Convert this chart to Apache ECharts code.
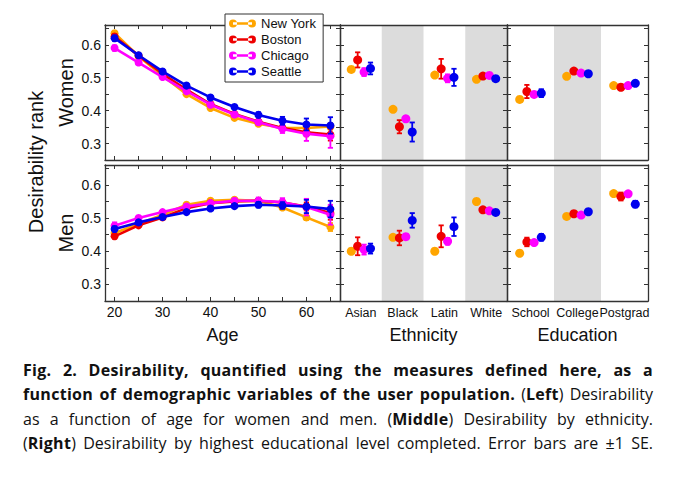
<!DOCTYPE html>
<html>
<head>
<meta charset="utf-8">
<script src="https://cdn.jsdelivr.net/npm/echarts@6/dist/echarts.min.js"></script>
<style>
html,body{margin:0;padding:0;background:#fff;}
#chart{position:absolute;left:0;top:0;width:680px;height:479px;}
#cap{position:absolute;left:23px;top:358px;width:630px;font-family:'Open Sans',sans-serif;font-size:16px;color:#111;}
#cap .l{text-align:justify;text-align-last:justify;height:24.3px;line-height:24.3px;}
#cap b{font-weight:700;letter-spacing:0.3px;}
</style>
</head>
<body>
<div id="chart"></div>
<div id="cap">
<div class="l"><b>Fig. 2. Desirability, quantified using the measures defined here, as a</b></div>
<div class="l"><b>function of demographic variables of the user population.</b> (<b>Left</b>) Desirability</div>
<div class="l">as a function of age for women and men. (<b>Middle</b>) Desirability by ethnicity.</div>
<div class="l">(<b>Right</b>) Desirability by highest educational level completed. Error bars are ±1 SE.</div>
</div>
<script>
// ---------- data ----------
const cities = ['New York', 'Boston', 'Chicago', 'Seattle'];
const ages = [20, 25, 30, 35, 40, 45, 50, 55, 60, 65];
const ethnicities = ['Asian', 'Black', 'Latin', 'White'];
const educations = ['School', 'College', 'Postgrad'];
const ageTicks = [20, 25, 30, 35, 40, 45, 50, 55, 60, 65];
const ageLabels = [20, 30, 40, 50, 60];
const yTicks = [0.25, 0.3, 0.35, 0.4, 0.45, 0.5, 0.55, 0.6, 0.65];
const yLabels = [0.3, 0.4, 0.5, 0.6];

// Women, by age
const womenAgeNewYork = [0.635, 0.565, 0.506, 0.450, 0.408, 0.378, 0.360, 0.347, 0.347, 0.352];
const womenAgeBoston  = [0.625, 0.567, 0.512, 0.464, 0.420, 0.390, 0.366, 0.347, 0.334, 0.327];
const womenAgeChicago = [0.590, 0.546, 0.502, 0.459, 0.418, 0.388, 0.365, 0.344, 0.330, 0.322];
const womenAgeSeattle = [0.620, 0.568, 0.519, 0.476, 0.440, 0.411, 0.387, 0.369, 0.358, 0.355];
const womenAgeErrNewYork = [0.006, 0.004, 0.004, 0.004, 0.004, 0.004, 0.005, 0.006, 0.008, 0.010];
const womenAgeErrBoston  = [0.007, 0.005, 0.004, 0.004, 0.004, 0.005, 0.006, 0.008, 0.012, 0.018];
const womenAgeErrChicago = [0.008, 0.006, 0.005, 0.005, 0.005, 0.006, 0.007, 0.012, 0.022, 0.035];
const womenAgeErrSeattle = [0.008, 0.006, 0.005, 0.005, 0.005, 0.006, 0.008, 0.012, 0.018, 0.025];

// Men, by age
const menAgeNewYork = [0.455, 0.482, 0.510, 0.540, 0.552, 0.555, 0.552, 0.532, 0.502, 0.473];
const menAgeBoston  = [0.445, 0.478, 0.502, 0.530, 0.545, 0.550, 0.552, 0.547, 0.535, 0.515];
const menAgeChicago = [0.477, 0.500, 0.518, 0.535, 0.545, 0.552, 0.552, 0.548, 0.533, 0.510];
const menAgeSeattle = [0.467, 0.487, 0.503, 0.518, 0.529, 0.536, 0.540, 0.538, 0.535, 0.527];
const menAgeErrNewYork = [0.006, 0.004, 0.004, 0.004, 0.004, 0.005, 0.005, 0.006, 0.008, 0.012];
const menAgeErrBoston  = [0.007, 0.005, 0.004, 0.004, 0.004, 0.005, 0.006, 0.008, 0.012, 0.020];
const menAgeErrChicago = [0.010, 0.006, 0.005, 0.005, 0.005, 0.006, 0.010, 0.012, 0.025, 0.030];
const menAgeErrSeattle = [0.008, 0.006, 0.005, 0.005, 0.005, 0.006, 0.008, 0.010, 0.020, 0.025];

// Women, by ethnicity (Asian, Black, Latin, White)
const womenEthNewYork = [0.525, 0.404, 0.508, 0.495];
const womenEthBoston  = [0.554, 0.351, 0.527, 0.505];
const womenEthChicago = [0.517, 0.375, 0.498, 0.507];
const womenEthSeattle = [0.528, 0.335, 0.501, 0.497];
const womenEthErrNewYork = [0.005, 0.005, 0.006, 0.002];
const womenEthErrBoston  = [0.023, 0.020, 0.030, 0.003];
const womenEthErrChicago = [0.012, 0.008, 0.012, 0.002];
const womenEthErrSeattle = [0.018, 0.029, 0.026, 0.003];

// Men, by ethnicity
const menEthNewYork = [0.400, 0.442, 0.400, 0.550];
const menEthBoston  = [0.415, 0.440, 0.445, 0.525];
const menEthChicago = [0.405, 0.444, 0.430, 0.522];
const menEthSeattle = [0.408, 0.493, 0.474, 0.517];
const menEthErrNewYork = [0.005, 0.005, 0.005, 0.002];
const menEthErrBoston  = [0.027, 0.022, 0.033, 0.003];
const menEthErrChicago = [0.015, 0.008, 0.010, 0.002];
const menEthErrSeattle = [0.015, 0.022, 0.028, 0.003];

// Women, by education (School, College, Postgrad)
const womenEduNewYork = [0.434, 0.504, 0.476];
const womenEduBoston  = [0.458, 0.520, 0.471];
const womenEduChicago = [0.449, 0.514, 0.476];
const womenEduSeattle = [0.453, 0.512, 0.483];
const womenEduErrNewYork = [0.008, 0.002, 0.002];
const womenEduErrBoston  = [0.020, 0.003, 0.007];
const womenEduErrChicago = [0.006, 0.002, 0.002];
const womenEduErrSeattle = [0.012, 0.003, 0.008];

// Men, by education
const menEduNewYork = [0.394, 0.505, 0.574];
const menEduBoston  = [0.428, 0.513, 0.565];
const menEduChicago = [0.426, 0.509, 0.573];
const menEduSeattle = [0.442, 0.519, 0.542];
const menEduErrNewYork = [0.005, 0.002, 0.002];
const menEduErrBoston  = [0.013, 0.003, 0.012];
const menEduErrChicago = [0.005, 0.002, 0.003];
const menEduErrSeattle = [0.010, 0.003, 0.010];

// ---------- styles / layout ----------
const colors = ['#FFA500', '#EE0000', '#FF00FF', '#0000EE'];
const FONT = "'Liberation Sans', Arial, Helvetica, sans-serif";
const AX = '#333';
const yMin = 0.25, yMax = 0.66;
const offsets = [-0.23, -0.077, 0.077, 0.23];
const grids = [
  {left: 105, top: 25, width: 235, height: 135},
  {left: 105, top: 165, width: 235, height: 136},
  {left: 340, top: 25, width: 167, height: 135},
  {left: 340, top: 165, width: 167, height: 136},
  {left: 507, top: 25, width: 141, height: 135},
  {left: 507, top: 165, width: 141, height: 136}
];

const panelData = [
  {vals: [womenAgeNewYork, womenAgeBoston, womenAgeChicago, womenAgeSeattle],
   errs: [womenAgeErrNewYork, womenAgeErrBoston, womenAgeErrChicago, womenAgeErrSeattle]},
  {vals: [menAgeNewYork, menAgeBoston, menAgeChicago, menAgeSeattle],
   errs: [menAgeErrNewYork, menAgeErrBoston, menAgeErrChicago, menAgeErrSeattle]},
  {vals: [womenEthNewYork, womenEthBoston, womenEthChicago, womenEthSeattle],
   errs: [womenEthErrNewYork, womenEthErrBoston, womenEthErrChicago, womenEthErrSeattle]},
  {vals: [menEthNewYork, menEthBoston, menEthChicago, menEthSeattle],
   errs: [menEthErrNewYork, menEthErrBoston, menEthErrChicago, menEthErrSeattle]},
  {vals: [womenEduNewYork, womenEduBoston, womenEduChicago, womenEduSeattle],
   errs: [womenEduErrNewYork, womenEduErrBoston, womenEduErrChicago, womenEduErrSeattle]},
  {vals: [menEduNewYork, menEduBoston, menEduChicago, menEduSeattle],
   errs: [menEduErrNewYork, menEduErrBoston, menEduErrChicago, menEduErrSeattle]}
];

const xAxes = [], yAxes = [], series = [];
const lineCommon = {show: true, onZero: false, lineStyle: {color: AX, width: 1.3}};

grids.forEach((g, gi) => {
  const isAge = gi < 2;
  const cats = gi < 4 ? ethnicities : educations;
  const isBottom = gi % 2 === 1;
  const xMin = isAge ? 18 : -0.5;
  const xMax = isAge ? 67 : cats.length - 0.5;
  const xName = isBottom ? (isAge ? 'Age' : (gi < 4 ? 'Ethnicity' : 'Education')) : '';
  // bottom x
  xAxes.push({
    gridIndex: gi, type: 'value', position: 'bottom', min: xMin, max: xMax, z: 10,
    axisLine: lineCommon,
    axisTick: isAge ? {show: true, inside: true, length: 4, customValues: ageTicks, lineStyle: {color: AX}} : {show: false},
    axisLabel: {
      show: isBottom, margin: isAge ? 4 : 5,
      customValues: isAge ? ageLabels : cats.map((c, i) => i),
      formatter: isAge ? (v => String(v)) : (v => cats[Math.round(v)]),
      fontSize: isAge ? 14 : 12.5, color: '#111', fontFamily: FONT
    },
    splitLine: {show: false},
    name: xName, nameLocation: 'middle', nameGap: 25,
    nameTextStyle: {fontSize: 18, color: '#111', fontFamily: FONT}
  });
  // top x
  xAxes.push({
    gridIndex: gi, type: 'value', position: 'top', min: xMin, max: xMax, z: 10,
    axisLine: lineCommon,
    axisTick: isAge ? {show: true, inside: true, length: 4, customValues: ageTicks, lineStyle: {color: AX}} : {show: false},
    axisLabel: {show: false}, splitLine: {show: false}
  });
  // left y
  yAxes.push({
    gridIndex: gi, type: 'value', position: 'left', min: yMin, max: yMax, z: 10,
    axisLine: lineCommon,
    axisTick: {show: true, inside: true, length: 4, customValues: yTicks, lineStyle: {color: AX}},
    axisLabel: {show: isAge, customValues: yLabels, formatter: v => v.toFixed(1), margin: 4,
      fontSize: 14, color: '#111', fontFamily: FONT},
    splitLine: {show: false},
    name: isAge ? (gi === 0 ? 'Women' : 'Men') : '', nameLocation: 'middle', nameGap: 29,
    nameTextStyle: {fontSize: 20, color: '#111', fontFamily: FONT}
  });
  // right y
  yAxes.push({
    gridIndex: gi, type: 'value', position: 'right', min: yMin, max: yMax, z: 10,
    axisLine: lineCommon,
    axisTick: {show: true, inside: true, length: 4, customValues: yTicks, lineStyle: {color: AX}},
    axisLabel: {show: false}, splitLine: {show: false}
  });

  const xi = gi * 2, yi = gi * 2;

  // grey bands for categorical panels
  if (!isAge) {
    series.push({
      type: 'custom', name: 'band', xAxisIndex: xi, yAxisIndex: yi, z: 1, silent: true,
      data: cats.map((c, i) => i).filter(i => i % 2 === 1).map(i => [i, yMin]),
      encode: {x: 0, y: 1},
      renderItem: (params, api) => {
        const i = api.value(0);
        const a = api.coord([i - 0.5, yMax]);
        const b = api.coord([i + 0.5, yMin]);
        return {type: 'rect', shape: {x: a[0], y: a[1], width: b[0] - a[0], height: b[1] - a[1]},
          style: {fill: '#dcdcdc'}};
      }
    });
  }

  const pd = panelData[gi];
  cities.forEach((city, ci) => {
    const vals = pd.vals[ci], errs = pd.errs[ci];
    const xs = isAge ? ages : vals.map((v, k) => k + offsets[ci]);
    const col = colors[ci];
    // error bars
    series.push({
      type: 'custom', name: city + ' SE', xAxisIndex: xi, yAxisIndex: yi, z: 3 + ci * 2, silent: true,
      data: vals.map((v, k) => [xs[k], v - errs[k], v + errs[k]]),
      encode: {x: 0, y: [1, 2]},
      renderItem: (params, api) => {
        const x = api.value(0);
        const p1 = api.coord([x, api.value(1)]);
        const p2 = api.coord([x, api.value(2)]);
        const w = 2.6;
        const st = {stroke: col, lineWidth: 1.8};
        return {type: 'group', children: [
          {type: 'line', shape: {x1: p1[0], y1: p1[1], x2: p2[0], y2: p2[1]}, style: st},
          {type: 'line', shape: {x1: p1[0] - w, y1: p1[1], x2: p1[0] + w, y2: p1[1]}, style: st},
          {type: 'line', shape: {x1: p2[0] - w, y1: p2[1], x2: p2[0] + w, y2: p2[1]}, style: st}
        ]};
      }
    });
    if (isAge) {
      series.push({
        type: 'line', name: city, xAxisIndex: xi, yAxisIndex: yi, z: 4 + ci * 2,
        data: vals.map((v, k) => [xs[k], v]),
        symbol: 'circle', symbolSize: 8, showSymbol: true,
        lineStyle: {color: col, width: 2.6}, itemStyle: {color: col},
        emphasis: {disabled: true}, animation: false
      });
    } else {
      series.push({
        type: 'scatter', name: city, xAxisIndex: xi, yAxisIndex: yi, z: 4 + ci * 2,
        data: vals.map((v, k) => [xs[k], v]),
        symbol: 'circle', symbolSize: 9, itemStyle: {color: col, opacity: 1},
        emphasis: {disabled: true}, animation: false
      });
    }
  });
});

const iconPath = 'path://M0,4.5a4,4 0 1,0 8,0a4,4 0 1,0 -8,0zM19,4.5a4,4 0 1,0 8,0a4,4 0 1,0 -8,0zM4,3.3h19v2.4h-19z';

const option = {
  backgroundColor: '#fff',
  animation: false,
  grid: grids.map(g => Object.assign({containLabel: false}, g)),
  xAxis: xAxes,
  yAxis: yAxes,
  legend: {
    orient: 'vertical', left: 225, top: 14, padding: [2, 7, 3, 4], itemGap: 1,
    itemWidth: 27, itemHeight: 9, backgroundColor: '#fff', borderColor: '#333', borderWidth: 1,
    textStyle: {fontSize: 13, lineHeight: 15, color: '#111', fontFamily: FONT},
    data: cities.map(c => ({name: c, icon: iconPath})), z: 20, selectedMode: false
  },
  graphic: [{
    type: 'text', x: 36, y: 162, rotation: Math.PI / 2,
    style: {text: 'Desirability rank', fontSize: 20, fontFamily: FONT, fill: '#111',
      align: 'center', verticalAlign: 'middle'}
  }],
  series: series
};

const chart = echarts.init(document.getElementById('chart'), null, {renderer: 'svg'});
chart.setOption(option);
</script>
</body>
</html>
